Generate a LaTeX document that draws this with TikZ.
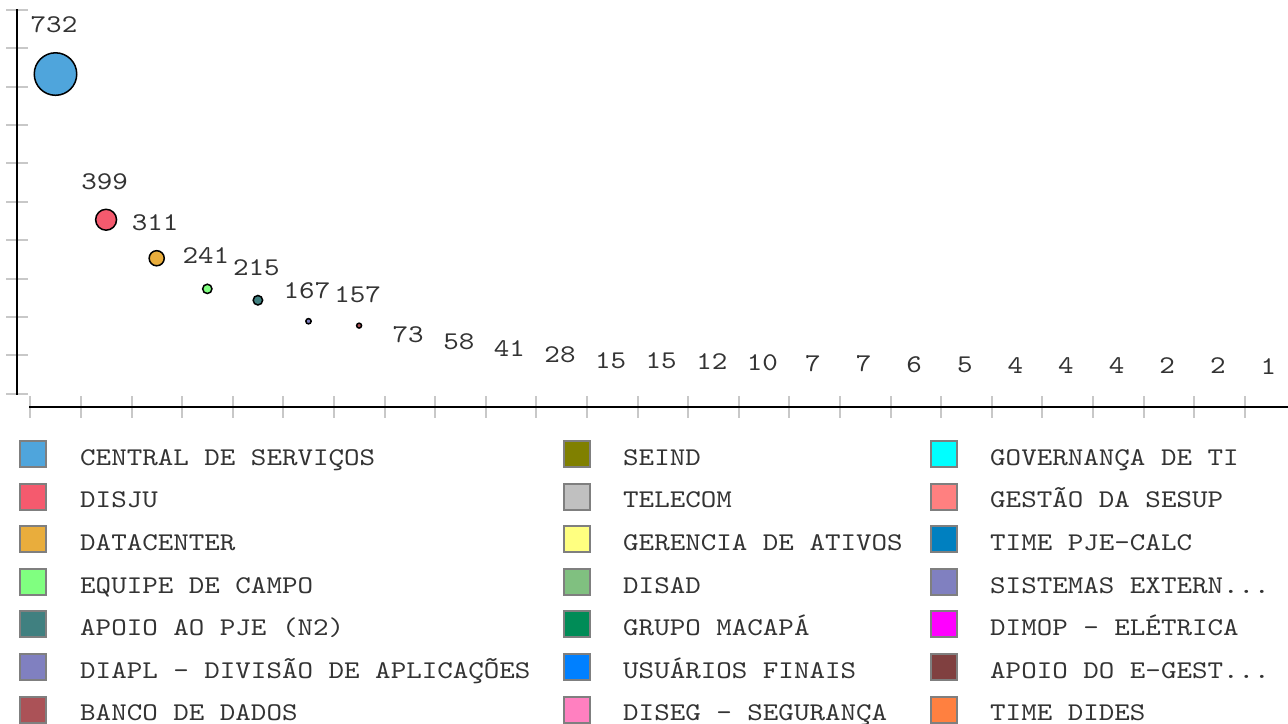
\documentclass[tikz,border=0pt]{standalone}
\usepackage{fontspec}
\setmainfont{lmmono10-regular.otf}[FakeStretch=1.16]
\newcommand\threedots{...}
\definecolor{txt}{HTML}{333333}
\definecolor{tickgray}{HTML}{C8C8C8}
\definecolor{swborder}{HTML}{7F7F7F}
\definecolor{ca1}{HTML}{4FA5DC}
\definecolor{ca2}{HTML}{F55A6E}
\definecolor{ca3}{HTML}{E9AD3C}
\definecolor{ca4}{HTML}{80FF80}
\definecolor{ca5}{HTML}{408080}
\definecolor{ca6}{HTML}{8080C0}
\definecolor{ca7}{HTML}{AB5257}
\definecolor{cb1}{HTML}{808000}
\definecolor{cb2}{HTML}{C0C0C0}
\definecolor{cb3}{HTML}{FFFF80}
\definecolor{cb4}{HTML}{80C080}
\definecolor{cb5}{HTML}{008C57}
\definecolor{cb6}{HTML}{0080FF}
\definecolor{cb7}{HTML}{FF80C0}
\definecolor{cc1}{HTML}{00FFFF}
\definecolor{cc2}{HTML}{FF8080}
\definecolor{cc3}{HTML}{0080C0}
\definecolor{cc4}{HTML}{8080C0}
\definecolor{cc5}{HTML}{FF00FF}
\definecolor{cc6}{HTML}{804040}
\definecolor{cc7}{HTML}{FF8040}
\tikzset{
  lbl/.style={font=\fontsize{25.5}{26}\selectfont, text=txt, inner sep=0pt, anchor=base},
  legtxt/.style={font=\fontsize{25.5}{26}\selectfont, text=txt, inner sep=0pt, anchor=base west},
  swatch/.style={draw=swborder, line width=2pt, minimum size=26pt, inner sep=0pt, rectangle},
  bubble/.style={circle, draw=black, line width=1.5pt, inner sep=0pt},
  tickline/.style={draw=tickgray, line width=2pt},
  axisline/.style={draw=black, line width=2pt}
}
\begin{document}
\begin{tikzpicture}[x=1pt,y=-1pt]
\useasboundingbox[fill=white] (0,0) rectangle (1288,723);
% y ticks
\foreach \j in {0,1,2,3,4,5,6,7,8,9,10} {
  \draw[tickline] (6,{10+38.37*\j}) -- (28,{10+38.37*\j});
}
% x ticks
\foreach \k in {0,1,2,3,4,5,6,7,8,9,10,11,12,13,14,15,16,17,18,19,20,21,22,23,24} {
  \draw[tickline] ({30.3+50.6*\k},396) -- ({30.3+50.6*\k},418);
}
% axes
\coordinate (ytop) at (16.5,9);
\coordinate (ybot) at (16.5,394.5);
\coordinate (xl) at (29.3,406.7);
\coordinate (xr) at (1288,406.7);
\draw[axisline] (ytop) -- (ybot);
\draw[axisline] (xl) -- (xr);
% bubbles
\foreach \v/\r/\c [count=\k from 0] in {732/22/ca1,399/11.2/ca2,311/8.3/ca3,241/5.4/ca4,215/5.5/ca5,167/3.4/ca6,157/3.2/ca7} {
  \pgfmathsetmacro\bx{55.5+50.6*\k}
  \pgfmathsetmacro\by{394.3-0.4375*\v}
  \pgfmathsetmacro\bd{2*\r-1.5}
  \node[bubble, fill=\c, minimum size=\bd pt] (b\k) at (\bx,\by) {};
}
% value labels
\foreach \v/\r [count=\k from 0] in {732/22,399/11.2,311/8.3,241/5.4,215/5.5,167/3.4,157/3.2,73/0,58/0,41/0,28/0,15/0,15/0,12/0,10/0,7/0,7/0,6/0,5/0,4/0,4/0,4/0,2/0,2/0,1/0} {
  \pgfmathsetmacro\bx{55.5+50.6*\k-1.5}
  \pgfmathsetmacro\by{394.3-0.4375*\v-\r-19.5}
  \node[lbl] (lab\k) at (\bx,\by) {\v};
}
% legend column 1
\foreach \t/\c [count=\i from 0] in {CENTRAL DE SERVIÇOS/ca1,DISJU/ca2,DATACENTER/ca3,EQUIPE DE CAMPO/ca4,APOIO AO PJE (N2)/ca5,DIAPL - DIVISÃO DE APLICAÇÕES/ca6,BANCO DE DADOS/ca7} {
  \node[swatch, fill=\c] (sa\i) at (33,{454+42.6*\i}) {};
  \node[legtxt] (ta\i) at (80,{465.3+42.6*\i}) {\t};
}
% legend column 2
\foreach \t/\c [count=\i from 0] in {SEIND/cb1,TELECOM/cb2,GERENCIA DE ATIVOS/cb3,DISAD/cb4,GRUPO MACAPÁ/cb5,USUÁRIOS FINAIS/cb6,DISEG - SEGURANÇA/cb7} {
  \node[swatch, fill=\c] (sb\i) at (577,{454+42.6*\i}) {};
  \node[legtxt] (tb\i) at (623,{465.3+42.6*\i}) {\t};
}
% legend column 3
\foreach \t/\c [count=\i from 0] in {GOVERNANÇA DE TI/cc1,GESTÃO DA SESUP/cc2,TIME PJE-CALC/cc3,SISTEMAS EXTERN\threedots/cc4,DIMOP - ELÉTRICA/cc5,APOIO DO E-GEST\threedots/cc6,TIME DIDES/cc7} {
  \node[swatch, fill=\c] (sc\i) at (944,{454+42.6*\i}) {};
  \node[legtxt] (tc\i) at (990,{465.3+42.6*\i}) {\t};
}
\end{tikzpicture}
\end{document}
